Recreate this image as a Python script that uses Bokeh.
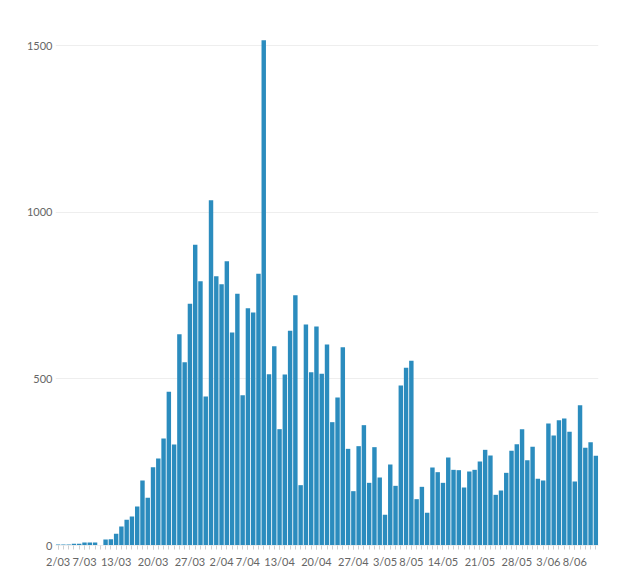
from datetime import date, timedelta
from bokeh.plotting import figure
from bokeh.models import FixedTicker, ColumnDataSource, Range1d
from bokeh.embed import file_html
from bokeh.resources import INLINE

start = date(2020, 3, 2)
values = [
    # March 2..31
    3, 3, 3, 5, 5, 9, 9, 9, 1, 18, 19, 35, 57, 77, 87, 117, 195, 143, 235, 261,
    321, 461, 303, 634, 550, 725, 902, 793, 447, 1036,
    # April
    808, 784, 853, 639, 755, 451, 712, 699, 815, 1516, 514, 598, 349, 513, 644,
    751, 181, 663, 520, 657, 515, 603, 370, 444, 595, 290, 163, 298, 361, 188,
    # May
    295, 204, 92, 243, 179, 480, 533, 554, 139, 176, 98, 234, 220, 188, 264,
    227, 226, 174, 222, 227, 252, 287, 270, 152, 165, 218, 284, 304, 349, 256, 296,
    # June 1..12
    200, 195, 366, 330, 376, 381, 341, 192, 421, 293, 310, 269,
]
days = [start + timedelta(days=i) for i in range(len(values))]
day_labels = [f"{d.day}/{d.month:02d}" for d in days]
tick_labels = ["2/03", "7/03", "13/03", "20/03", "27/03", "2/04", "7/04", "13/04",
               "20/04", "27/04", "3/05", "8/05", "14/05", "21/05", "28/05", "3/06", "8/06"]
y_ticks = [0, 500, 1000, 1500]

idx = list(range(len(values)))
src = ColumnDataSource(dict(x=idx, top=values, label=day_labels))

FONT = "Lato"
p = figure(width=616, height=570, output_backend="svg", toolbar_location=None,
           x_range=Range1d(-0.5, len(values) - 0.5), y_range=Range1d(0, 1545),
           min_border_left=55, min_border_right=18, min_border_top=30, min_border_bottom=24)
p.outline_line_color = None
p.background_fill_color = "white"
p.border_fill_color = "white"

p.vbar(x="x", top="top", width=0.84, source=src, fill_color="#2b8cbe", line_color=None)

tick_pos = [day_labels.index(t) for t in tick_labels]
p.xaxis.ticker = FixedTicker(ticks=tick_pos, minor_ticks=idx)
p.xaxis.major_label_overrides = {pos: lab for pos, lab in zip(tick_pos, tick_labels)}
p.xaxis.axis_line_color = "#eeeeee"
p.xaxis.major_tick_line_color = "#d0d0d0"
p.xaxis.minor_tick_line_color = "#d0d0d0"
p.xaxis.major_tick_out = 4
p.xaxis.major_tick_in = 0
p.xaxis.minor_tick_out = 4
p.xaxis.minor_tick_in = 0
p.xaxis.major_label_standoff = 5
p.xaxis.major_label_text_font = FONT
p.xaxis.major_label_text_font_size = "11px"
p.xaxis.major_label_text_color = "#666666"

p.yaxis.ticker = FixedTicker(ticks=y_ticks)
p.yaxis.major_label_overrides = {v: str(v) for v in y_ticks}
p.yaxis.axis_line_color = None
p.yaxis.major_tick_line_color = None
p.yaxis.minor_tick_line_color = None
p.yaxis.major_tick_out = 0
p.yaxis.major_label_standoff = 3
p.yaxis.major_label_text_font = FONT
p.yaxis.major_label_text_font_size = "11px"
p.yaxis.major_label_text_color = "#666666"

p.xgrid.grid_line_color = None
p.ygrid.grid_line_color = "#eeeeee"
p.ygrid.grid_line_width = 1

open("out.html", "w").write(file_html(p, INLINE))
